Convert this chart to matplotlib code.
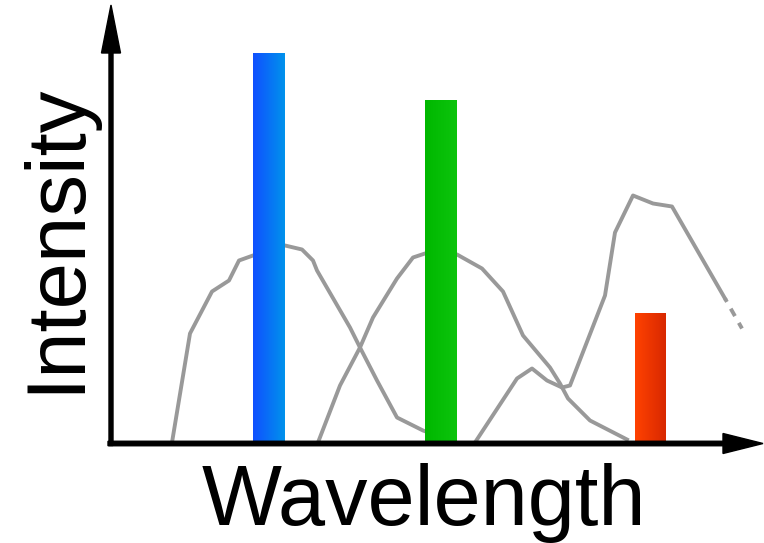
"""Sketch of line emission versus broad absorption bands (intensity vs wavelength)."""

from matplotlib import pyplot, colors
import numpy


# Emission lines: position along the wavelength axis, width and intensity.
line_names = ['blue', 'green', 'red']
line_pos = [158, 329.5, 539.5]
line_width = [32, 31.5, 31]
line_height = [390, 342.5, 130]
line_colors = [('#1050ff', '#0092ec'),
               ('#00b800', '#0cc40c'),
               ('#ff4200', '#d82800')]

# Broad bands (grey curves).
band1_x = [61, 79, 101, 118, 128, 142, 159, 174, 191, 202, 206, 239, 249,
           266, 286, 312, 329]
band1_y = [1, 110, 152, 163, 183, 188, 193, 198, 194, 183, 173, 116, 96,
           63, 26, 13, 7]
band2_x = [207, 229, 249, 262, 286, 302, 314, 329, 346, 371, 392, 412, 439,
           449, 457, 479, 516]
band2_y = [1, 58, 96, 126, 165, 186, 190, 191, 189, 175, 152, 108, 76,
           60, 45, 23, 4]
band3_x = [364, 406, 421, 436, 451, 459, 494, 504, 522, 542, 561, 614]
band3_y = [1, 65, 75, 63, 56, 58, 148, 211, 248, 240, 237, 145]
band3_tail_x = [614, 631]
band3_tail_y = [145, 115]

# Create the figure (one data unit = one pixel).
pyplot.rc('font', family='Liberation Sans')
fig = pyplot.figure(figsize=(7.64, 5.43), dpi=100)
ax = fig.add_axes([0.0, 0.0, 1.0, 1.0])
ax.set_axis_off()

# Grey bands behind the lines.
grey = '#999999'
for bx, by in [(band1_x, band1_y), (band2_x, band2_y), (band3_x, band3_y)]:
    ax.plot(bx, by, color=grey, linewidth=2.8, solid_joinstyle='round',
            zorder=1)
ax.plot(band3_tail_x, band3_tail_y, color=grey, linewidth=2.8,
        linestyle=(1.2, (2.2, 2.0)), zorder=1)

# Emission lines as bars filled with a horizontal gradient.
bars = ax.bar(line_pos, line_height, width=line_width, color='none',
              zorder=2)
grad = numpy.linspace(0.0, 1.0, 64).reshape(1, -1)
for bar, (c0, c1) in zip(bars, line_colors):
    cmap = colors.LinearSegmentedColormap.from_list('g', [c0, c1])
    x0 = bar.get_x()
    ax.imshow(grad, cmap=cmap, aspect='auto', zorder=2,
              extent=[x0, x0 + bar.get_width(), 0, bar.get_height()])

# Axes drawn as arrows.
ax.arrow(-3, 0, 655, 0, width=4.5, head_width=20, head_length=40,
         length_includes_head=True, color='black', clip_on=False, zorder=3)
ax.arrow(0, -2, 0, 440.5, width=4, head_width=19, head_length=48,
         length_includes_head=True, color='black', clip_on=False, zorder=3)

ax.set_xlim(-111, 653)
ax.set_ylim(-99.5, 443.5)

# Axis titles.
fig.text(423.5 / 764, 18 / 543, 'Wavelength', fontsize=61,
         ha='center', va='baseline')
fig.text(78 / 764, (543 - 238) / 543, 'Intensity', fontsize=60,
         rotation=90, rotation_mode='anchor', ha='center', va='baseline')

fig.savefig('out.png', dpi=100)
